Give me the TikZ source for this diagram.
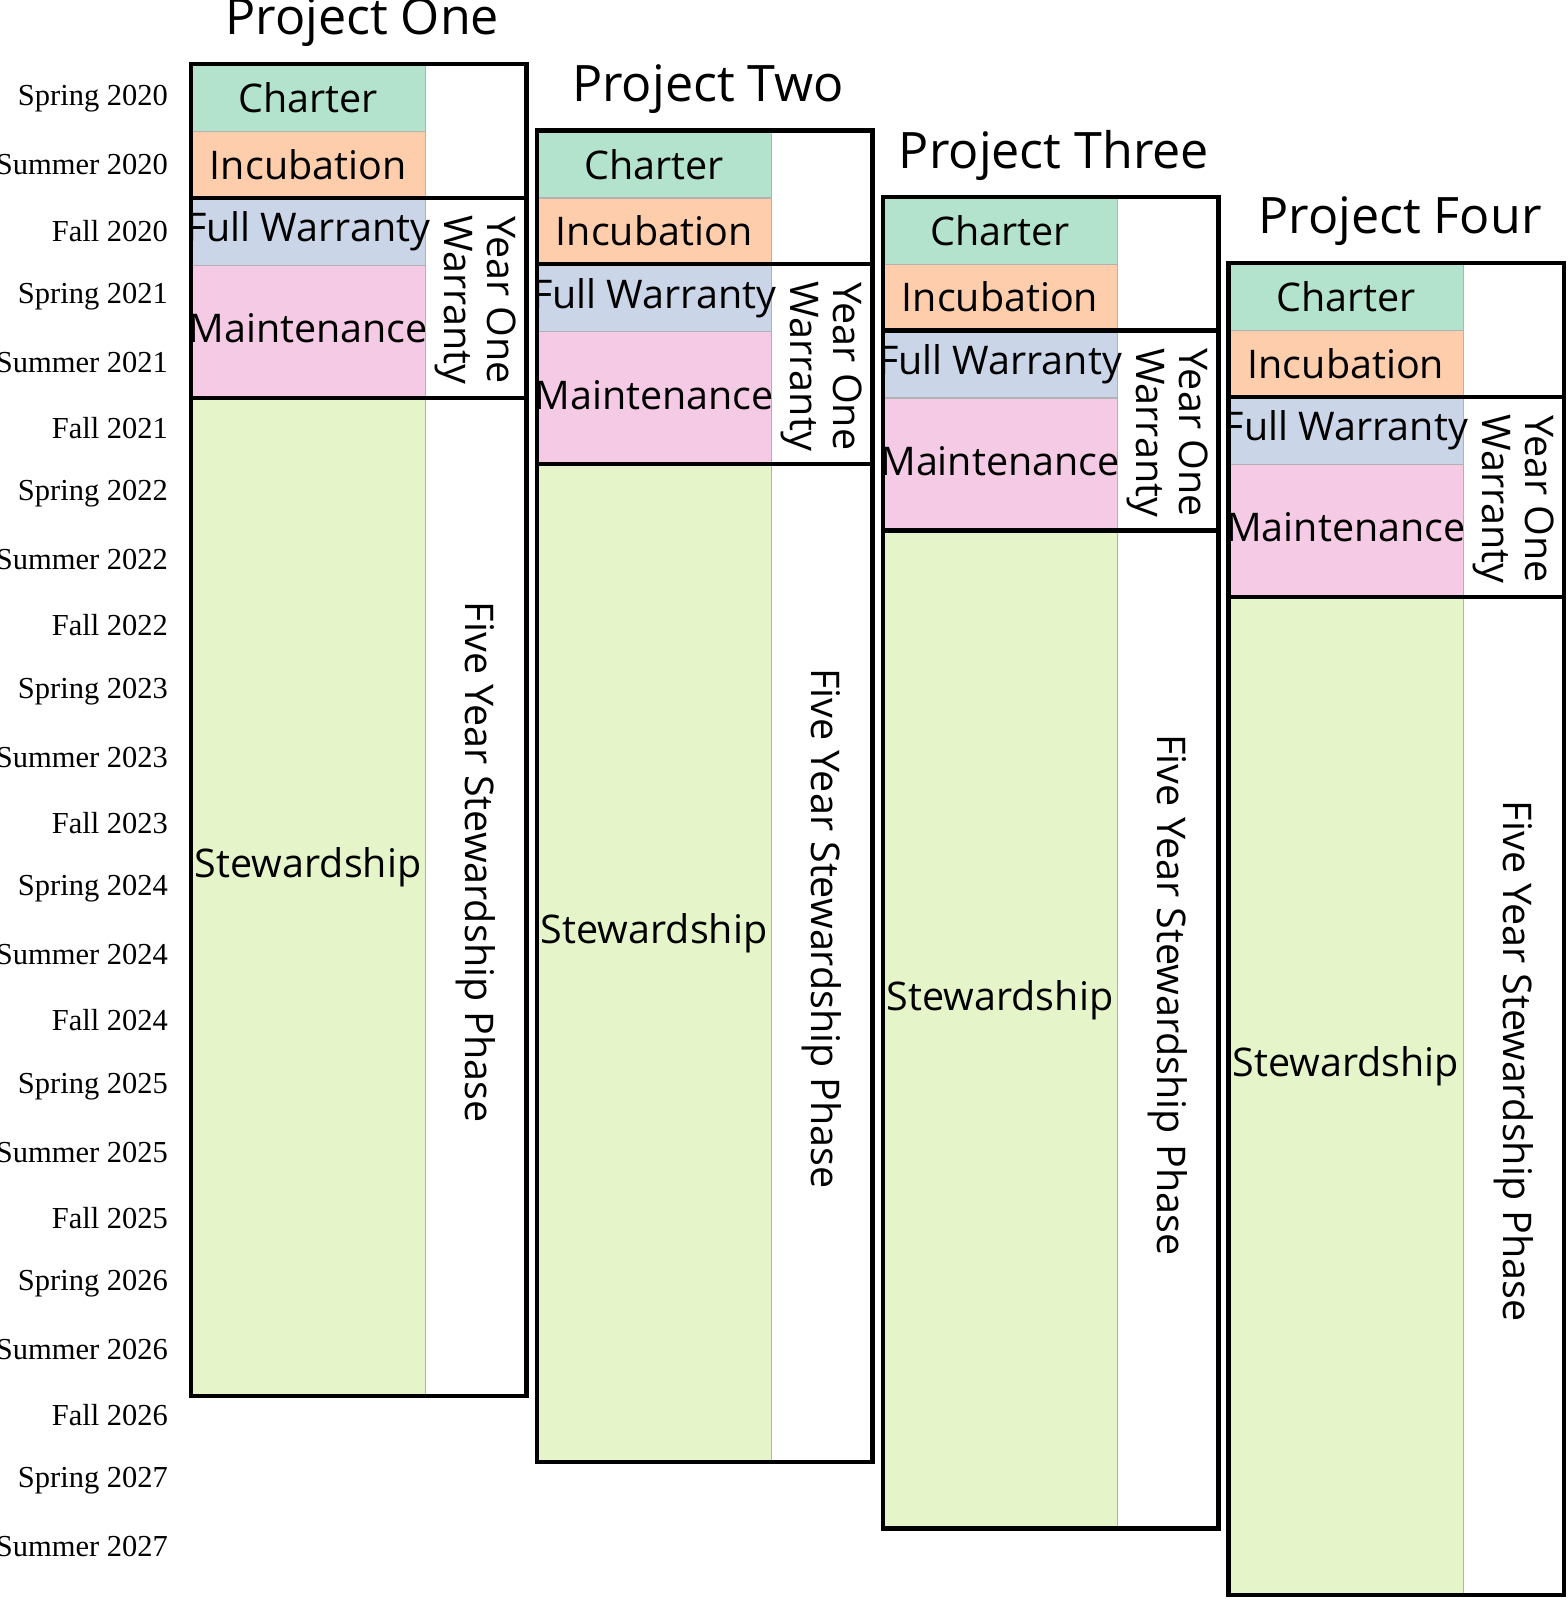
\documentclass[tikz,border=0pt]{standalone}
\usepackage{fontspec}
\setmainfont{Liberation Serif}
\newfontfamily\boxfont{Open Sans}
\definecolor{charterc}{HTML}{B3E2CD}
\definecolor{incubc}{HTML}{FDCDAC}
\definecolor{warrc}{HTML}{CBD5E8}
\definecolor{maintc}{HTML}{F4CAE4}
\definecolor{stewc}{HTML}{E6F5C9}
\begin{document}
\begin{tikzpicture}[x=0.01cm,y=-0.01cm]
    \tikzstyle{phase}=[draw=gray!60, line width=0.3pt, inner sep=0pt, font=\boxfont\fontsize{11}{13}\selectfont]
    \tikzstyle{frame}=[draw=black, line width=1.2pt]
    \tikzstyle{side}=[rotate=-90, align=center, font=\boxfont\fontsize{11}{12}\selectfont]
    \tikzstyle{season}=[anchor=east, font=\fontsize{8.5}{10}\selectfont]
    \useasboundingbox (0,0) rectangle (1536,1568);

    % season labels
    \foreach \lbl [count=\i from 0] in {Spring 2020,Summer 2020,Fall 2020,Spring 2021,Summer 2021,Fall 2021,Spring 2022,Summer 2022,Fall 2022,Spring 2023,Summer 2023,Fall 2023,Spring 2024,Summer 2024,Fall 2024,Spring 2025,Summer 2025,Fall 2025,Spring 2026,Summer 2026,Fall 2026,Spring 2027,Summer 2027}
        \node[season] (s\i) at (177,97+64.5*\i) {\lbl};

    % projects
    \foreach \name [count=\p from 0] in {One,Two,Three,Four}{
        \pgfmathsetmacro{\dx}{339*\p}
        \pgfmathsetmacro{\dy}{65*\p}
        \begin{scope}[shift={(\dx,\dy)}]
            \node[font=\boxfont\fontsize{14}{16}\selectfont] (t\p) at (355,22) {Project \name};
            \fill[charterc] (187,63) rectangle (417,129);
            \fill[incubc] (187,129) rectangle (417,194);
            \fill[warrc] (187,194) rectangle (417,260);
            \fill[maintc] (187,260) rectangle (417,390);
            \fill[stewc] (187,390) rectangle (417,1368);
            \draw[gray!60, line width=0.3pt] (187,129) -- (417,129) (187,194) -- (417,194)
                (187,260) -- (417,260) (187,390) -- (417,390) (417,63) -- (417,1368);
            \node[phase, draw=none] (ch\p) at (302,96) {Charter};
            \node[phase, draw=none] (in\p) at (302,161) {Incubation};
            \node[phase, draw=none] (fw\p) at (302,227) {Full Warranty};
            \node[phase, draw=none] (mn\p) at (302,322) {Maintenance};
            \node[phase, draw=none] (st\p) at (302,850) {Stewardship};
            \node[side] (yo\p) at (466,294) {Year One\\Warranty};
            \node[side] (fy\p) at (466,845) {Five Year Stewardship Phase};
            \draw[frame] (187,63) rectangle (516,1368);
            \draw[frame] (187,194) rectangle (516,390);
        \end{scope}
    }
\end{tikzpicture}
\end{document}
